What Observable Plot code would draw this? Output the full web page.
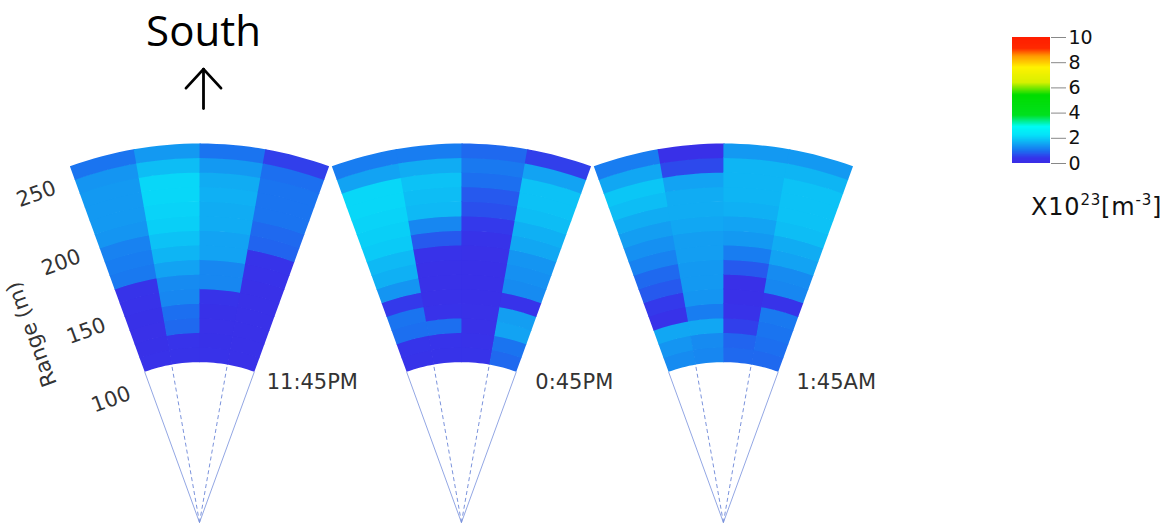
<!DOCTYPE html>
<html><head><meta charset="utf-8">
<script src="https://cdn.jsdelivr.net/npm/d3@7"></script>
<script src="https://cdn.jsdelivr.net/npm/@observablehq/plot@0.6"></script>
<style>
body{margin:0;background:#fff;}
#wrap{position:relative;width:1169px;height:526px;overflow:hidden;background:#fff;}
#chart{position:absolute;left:0;top:0;}
#legend{position:absolute;left:1000px;top:27px;}
#unit{position:absolute;left:1031px;top:195px;font-family:"DejaVu Sans";font-size:24px;line-height:24px;letter-spacing:0.8px;color:#111;white-space:nowrap;}
#unit sup{font-size:15px;position:relative;top:-10px;vertical-align:baseline;}
</style></head>
<body><div id="wrap"><div id="chart"></div><div id="legend"></div><div id="unit">X10<sup>23</sup>[m<sup>-3</sup>]</div></div>
<script>
// ---------- data ----------
const times = ["11:45PM", "0:45PM", "1:45AM"];
const beamStart = [-20, -10, 0, 10];          // azimuth of each beam's left edge (deg from "South" up)
const beamWidth = 10;
const rangeStart = [110, 120, 130, 140, 150, 160, 170, 180, 190, 200, 210, 220, 230, 240, 250]; // m
const rangeWidth = 10;
// values (x10^23 m^-3), per beam left->right, per range bin inner->outer
const fan1 = [
  [0.25,0.22,0.2,0.22,0.25,0.3,1.05,1.1,1.15,1.35,1.4,1.4,1.4,1.35,1.0],
  [0.3,0.35,0.9,0.95,1.2,1.25,1.5,1.7,1.85,2.0,2.05,2.1,2.1,1.8,1.4],
  [0.25,0.22,0.2,0.22,0.3,1.2,1.2,1.5,1.5,1.6,1.6,1.65,1.6,1.4,1.0],
  [0.2,0.2,0.2,0.2,0.2,0.2,0.25,0.3,0.85,0.9,1.0,1.0,1.0,0.95,0.5]
];
const fan2 = [
  [0.3,0.4,0.95,1.0,0.45,1.35,1.65,1.75,1.95,2.0,2.05,2.1,2.1,1.5,1.1],
  [0.3,0.35,0.95,0.25,0.2,0.2,0.2,0.25,0.75,1.2,1.75,1.8,1.85,1.6,1.1],
  [0.3,0.25,0.2,0.2,0.15,0.15,0.15,0.2,0.3,0.45,0.65,0.75,0.95,1.05,0.9],
  [0.9,1.0,1.5,1.45,0.35,1.25,1.3,1.35,1.55,1.65,1.8,1.85,1.85,1.5,0.5]
];
const fan3 = [
  [1.25,1.35,1.55,0.25,0.45,0.75,0.9,1.15,1.3,1.45,1.6,1.8,1.9,1.55,1.1],
  [1.2,1.25,1.55,1.1,1.35,1.4,1.4,1.45,1.45,1.55,1.6,1.6,1.5,0.6,0.15],
  [0.9,0.85,0.5,0.25,0.15,0.15,0.75,1.1,1.4,1.5,1.65,1.7,1.7,1.7,1.4],
  [0.9,0.95,1.0,1.05,0.3,1.2,1.25,1.5,1.6,1.8,1.85,1.85,1.85,1.7,1.4]
];
const fans = [fan1, fan2, fan3];
const guideAngles = [-20, -10, 10, 20];
const guideDashed = [false, true, true, false];
const rangeTicks = [100, 150, 200, 250];
const rangeLabel = "Range (m)";
const colorTicks = [0, 2, 4, 6, 8, 10];
const colorStops = [0, 0.4, 1.0, 1.6, 2.2, 2.9, 3.8, 5.4, 6.4, 7.6, 8.5, 9.1, 10];
const colorRange = ["#3b2ee6","#3634ea","#1a74f0","#10acf3","#06e0f9","#00fbf5","#00e020","#00dd00","#d8f000","#fff200","#ff9a00","#ff2a00","#ff1e00"];

// ---------- layout ----------
const PX = 379 / 260;          // pixels per metre
const fanSpacing = 179.7;      // metres between fan apexes
const rad = d => d * Math.PI / 180;
const px = (r, a, f) => f * fanSpacing + r * Math.sin(rad(a));
const py = (r, a) => r * Math.cos(rad(a));
const innerR = rangeStart[0];
const outerR = rangeStart[rangeStart.length - 1] + rangeWidth;
const edgeA = beamStart[0];
const lastA = beamStart[beamStart.length - 1] + beamWidth;

// each cell slightly overlaps under the next one drawn, to hide anti-aliasing seams
const cells = [];
fans.forEach((fan, f) => fan.forEach((col, b) => col.forEach((v, i) => {
  const a0 = beamStart[b];
  const a1 = a0 + beamWidth + (b < beamStart.length - 1 ? 0.2 : 0);
  const r0 = rangeStart[i];
  const r1 = r0 + rangeWidth + (i < rangeStart.length - 1 ? 0.5 : 0);
  const id = f + "-" + b + "-" + i, n = 8;
  for (let k = 0; k <= n; k++) { const a = a0 + (a1 - a0) * k / n; cells.push({id, v, x: px(r0, a, f), y: py(r0, a)}); }
  for (let k = n; k >= 0; k--) { const a = a0 + (a1 - a0) * k / n; cells.push({id, v, x: px(r1, a, f), y: py(r1, a)}); }
})));

const guides = [];
fans.forEach((fan, f) => guideAngles.forEach((a, j) => guides.push({
  dashed: guideDashed[j], x1: px(0, a, f), y1: 0, x2: px(innerR, a, f), y2: py(innerR, a)
})));

// "South" arrow: shaft and two barbs (metres above the outer arc)
const arrowX = px(outerR, 0, 0);
const arrowSegs = [
  {x1: arrowX, y1: outerR + 24, x2: arrowX, y2: outerR + 51},
  {x1: arrowX - 12, y1: outerR + 38, x2: arrowX, y2: outerR + 51},
  {x1: arrowX + 12, y1: outerR + 38, x2: arrowX, y2: outerR + 51}
];

const colorScale = {type: "linear", domain: colorStops, range: colorRange};
const FONT = "DejaVu Sans";

const chart = Plot.plot({
  width: 1169, height: 526, margin: 0,
  x: {domain: [-199 / PX, (1169 - 199) / PX], axis: null},
  y: {domain: [-4 / PX, 522 / PX], axis: null},
  color: colorScale,
  style: {background: "white", overflow: "visible", fontFamily: FONT},
  marks: [
    Plot.link(guides.filter(d => !d.dashed), {x1: "x1", y1: "y1", x2: "x2", y2: "y2", stroke: "#93a7e4", strokeWidth: 1}),
    Plot.link(guides.filter(d => d.dashed), {x1: "x1", y1: "y1", x2: "x2", y2: "y2", stroke: "#7b93dc", strokeWidth: 1, strokeDasharray: "4,3"}),
    Plot.line(cells, {x: "x", y: "y", z: "id", fill: "v", stroke: null, curve: "linear-closed"}),
    Plot.text(rangeTicks, {x: d => px(d, edgeA, 0), y: d => py(d, edgeA), text: d => String(d),
      rotate: edgeA, dx: -38.5, dy: 14, fontSize: 21, fill: "#333", fontFamily: FONT}),
    Plot.text([rangeLabel], {x: px(160, edgeA, 0), y: py(160, edgeA), text: d => d,
      rotate: edgeA - 90, dx: -88, dy: 31, fontSize: 21, fill: "#333", fontFamily: FONT}),
    Plot.text(times, {x: (d, i) => px(innerR, lastA, i), y: py(innerR, lastA), text: d => d,
      dx: 58, dy: 10, fontSize: 21, fill: "#333", fontFamily: FONT}),
    Plot.text(["South"], {x: px(outerR, 0, 0), y: py(outerR, 0), text: d => d,
      dx: 4, dy: -111, fontSize: 42, fill: "#000", fontFamily: "Open Sans"}),
    Plot.link(arrowSegs, {x1: "x1", y1: "y1", x2: "x2", y2: "y2", dx: 4,
      stroke: "#000", strokeWidth: 2.8, strokeLinecap: "round", strokeLinejoin: "round"})
  ]
});
document.getElementById("chart").appendChild(chart);

const step = 0.05;
const bins = d3.range(0, 10, step);
const legend = Plot.plot({
  width: 110, height: 146, marginLeft: 12, marginRight: 60, marginTop: 10, marginBottom: 10,
  x: {domain: [0, 1], axis: null},
  y: {domain: [0, 10], axis: null},
  color: colorScale,
  style: {background: "transparent", overflow: "visible", fontFamily: FONT},
  marks: [
    Plot.rect(bins, {x1: 0, x2: 1, y1: d => d, y2: d => Math.min(10, d + 3 * step), fill: d => d + step / 2}),
    Plot.axisY({anchor: "right", ticks: colorTicks, tickSize: 15, tickPadding: 3, fontSize: 19,
      stroke: "#888", fill: "#111", fontFamily: FONT, label: null})
  ]
});
document.getElementById("legend").appendChild(legend);
</script>
</body></html>
